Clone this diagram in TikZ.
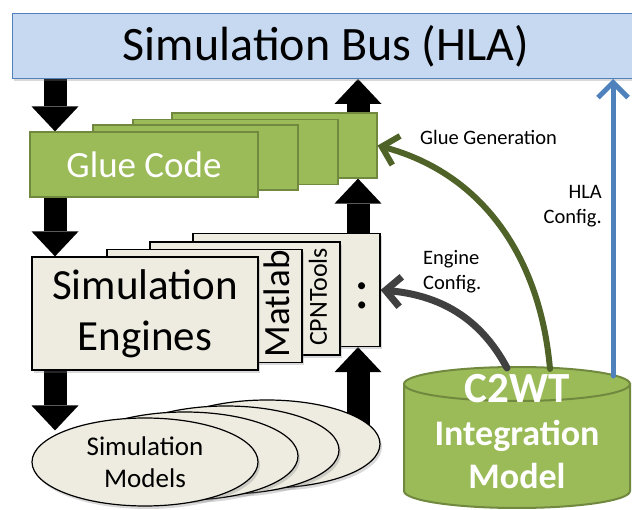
\documentclass[tikz,border=0pt]{standalone}
\usepackage{fontspec}
\setmainfont{Carlito}
\usepackage{tikz}
\usetikzlibrary{arrows.meta,shapes,positioning,shadows,backgrounds}

\definecolor{busfill}{HTML}{C6D9F1}
\definecolor{busline}{HTML}{4F81BD}
\definecolor{gluefill}{HTML}{9BBB59}
\definecolor{glueline}{HTML}{71893F}
\definecolor{genline}{HTML}{4F6228}
\definecolor{enginefill}{HTML}{EEECE1}
\definecolor{confline}{HTML}{404040}

\begin{document}
\begin{tikzpicture}
  [x=1pt,y=-1pt,
   every node/.style={inner sep=0pt,align=center},
   softshadow/.style={drop shadow={opacity=0.3,shadow xshift=2pt,shadow yshift=-3pt}},
   busbox/.style={rectangle,draw=busline,fill=busfill,line width=1pt,minimum width=628pt,minimum height=65pt,softshadow,font=\fontsize{48}{52}\selectfont},
   gluebox/.style={rectangle,draw=glueline,fill=gluefill,line width=1.2pt,minimum width=205pt,minimum height=65pt},
   enginebox/.style={rectangle,draw=black,fill=enginefill,line width=1.2pt,minimum height=113pt,softshadow},
   modelshape/.style={ellipse,draw=black,fill=enginefill,line width=1.2pt,minimum width=226pt,minimum height=88pt,softshadow},
   dbshape/.style={draw=glueline,fill=gluefill,line width=2pt},
   blockarrow/.style={line width=23pt,-{Triangle[length=25pt,width=47pt,line width=0pt]}},
   barbarrow/.style={line cap=round,line join=round,-{Straight Barb[length=15pt,width=30pt]}},
   smalltext/.style={font=\fontsize{20.5}{25}\selectfont}]

  \useasboundingbox (0,0) rectangle (632,510);

  \node[busbox] (bus) at (326,46) {Simulation Bus (HLA)};

  \node[gluebox] (glue4) at (274.5,145.5) {};
  \node[gluebox] (glue3) at (235.5,152) {};
  \node[gluebox] (glue2) at (195.5,157.5) {};
  \node[gluebox,minimum width=228pt,text=white,font=\fontsize{37}{40}\selectfont] (glue1) at (144,164.5) {Glue Code};

  \node[enginebox,minimum width=187pt] (engine4) at (286.5,290) {};
  \node[enginebox,minimum width=190pt] (engine3) at (245,298.5) {};
  \node[enginebox,minimum width=195pt] (engine2) at (204.5,306) {};
  \node[enginebox,minimum width=226pt,font=\fontsize{43}{51}\selectfont] (engine1) at (145,313.5) {Simulation\\Engines};
  \node[rotate=90,font=\fontsize{37}{40}\selectfont] (matlab) at (277,304) {Matlab};
  \node[rotate=90,font=\fontsize{26}{30}\selectfont] (cpntools) at (318,297) {CPNTools};
  \node[font=\fontsize{58}{60}\selectfont] (more) at (362,296) {:};

  \node[modelshape] (models4) at (267,444) {};
  \node[modelshape] (models3) at (226,450) {};
  \node[modelshape] (models2) at (185,456) {};
  \node[modelshape,font=\fontsize{27}{32}\selectfont] (models1) at (145,462) {Simulation\\Models};

  % the integration model drum
  \path[dbshape] (404,384) -- (404,491) arc[start angle=180,end angle=0,x radius=113,y radius=17] -- (630,384) -- cycle;
  \path[dbshape] (517,384) ellipse[x radius=113,y radius=17];
  \node[text=white,font=\bfseries\fontsize{36}{43}\selectfont] (c2wt) at (517,432)
        {{\fontsize{43}{43}\selectfont C2WT}\\Integration\\Model};

  % block arrows behind the boxes
  \coordinate (leftx) at (55,0);
  \coordinate (rightx) at (358,0);
  \begin{pgfonlayer}{background}
    \draw[blockarrow] (bus.south -| leftx) -- (glue1.north -| leftx);
    \draw[blockarrow] (glue1.south -| leftx) -- (engine1.north -| leftx);
    \draw[blockarrow] (engine1.south -| leftx) -- (models1.north west -| leftx);
    \draw[blockarrow] (models4 -| rightx) -- (engine4.south -| rightx);
    \draw[blockarrow] (engine4.north -| rightx) -- (glue4.south -| rightx);
    \draw[blockarrow] (glue4.north -| rightx) -- (bus.south -| rightx);
  \end{pgfonlayer}

  % configuration arrows out of the model
  \coordinate (genstart) at (550,369);
  \coordinate (confstart) at (507,368);
  \coordinate (hlastart) at (613,376);
  \draw[barbarrow,draw=genline,line width=6pt] (genstart) to[out=95,in=-15] (glue4.east);
  \draw[barbarrow,draw=confline,line width=7pt] (confstart) to[out=118,in=-5] (engine4.east);
  \draw[barbarrow,draw=busline,line width=5pt] (hlastart) -- (hlastart |- bus.south);

  \node[smalltext,anchor=west] (gluegen) at (420,137) {Glue Generation};
  \node[smalltext,anchor=west,align=left] (engineconf) at (423,272) {Engine\\Config.};
  \node[smalltext,anchor=east,align=right] (hlaconf) at (602,206) {HLA\\Config.};

\end{tikzpicture}
\end{document}
